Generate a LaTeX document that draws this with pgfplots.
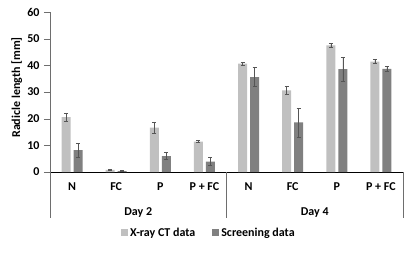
\documentclass[border=0pt]{standalone}
\usepackage{fontspec}
\setmainfont{Carlito}
\usepackage{pgfplots}
\usepackage{pgfplotstable}
\pgfplotsset{compat=1.18}
\definecolor{lightbar}{RGB}{192,192,192}
\definecolor{darkbar}{RGB}{128,128,128}
\definecolor{errc}{RGB}{85,85,85}
\definecolor{axc}{RGB}{110,110,110}
\pgfplotstableread{
x y e
0 20.6 1.4
1 0.8 0.2
2 16.6 2.0
3 11.4 0.4
4 40.6 0.4
5 30.6 1.4
6 47.5 0.6
7 41.4 0.8
}\xray
\pgfplotstableread{
x y e
0 8.2 2.5
1 0.3 0.2
2 6.0 1.4
3 3.9 1.5
4 35.6 3.5
5 18.6 5.4
6 38.6 4.4
7 38.7 1.0
}\screen
\newcommand{\ff}{\fontsize{12}{14.4}\selectfont\bfseries}
\begin{document}
\begin{tikzpicture}[x=1pt,y=1pt]
\path[use as bounding box] (0,0) rectangle (404,260);
\begin{axis}[
  scale only axis, width=353pt, height=160pt,
  at={(50pt,88pt)}, anchor=south west,
  ybar=3pt, bar width=9pt,
  xmin=-0.5, xmax=7.5, ymin=0, ymax=60,
  xtick={0,...,7}, xticklabels={N,FC,P,P + FC,N,FC,P,P + FC},
  x tick style={draw=none},
  ytick={0,10,...,60},
  axis x line*=bottom, axis y line*=left,
  x axis line style={black},
  y axis line style={axc},
  y tick style={axc},
  tick align=outside, major tick length=6pt,
  /pgf/number format/assume math mode=true,
  tick label style={font=\ff},
  yticklabel style={xshift=-1pt},
  xticklabel style={anchor=base, yshift=-12pt},
  ylabel={Radicle length [mm]},
  ylabel style={font=\ff, at={(axis description cs:-0.094,0.528)}, anchor=center},
  clip=false,
  legend style={draw=none, fill=none, legend columns=2, font=\ff,
    at={(axis description cs:0.45,-0.381)}, anchor=center,
    /tikz/every even column/.append style={column sep=15pt}},
]
\addplot[fill=lightbar, draw=none,
  legend image code/.code={\fill[lightbar] (0pt,-3.5pt) rectangle (7pt,3.5pt);},
  error bars/.cd, y dir=both, y explicit,
  error bar style={errc, line width=0.6pt},
  error mark options={rotate=90, mark size=2pt, line width=0.6pt, errc}]
  table[x=x, y=y, y error=e]{\xray};
\addlegendentry{X-ray CT data}
\addplot[fill=darkbar, draw=none,
  legend image code/.code={\fill[darkbar] (0pt,-3.5pt) rectangle (7pt,3.5pt);},
  error bars/.cd, y dir=both, y explicit,
  error bar style={errc, line width=0.6pt},
  error mark options={rotate=90, mark size=2pt, line width=0.6pt, errc}]
  table[x=x, y=y, y error=e]{\screen};
\addlegendentry{Screening data}
\draw[axc, line width=0.5pt] (axis cs:-0.5,0) -- ([yshift=-46pt]axis cs:-0.5,0);
\draw[axc, line width=0.5pt] (axis cs:3.5,0) -- ([yshift=-46pt]axis cs:3.5,0);
\draw[axc, line width=0.5pt] (axis cs:7.5,0) -- ([yshift=-46pt]axis cs:7.5,0);
\node[font=\ff, anchor=base] at ([yshift=-43pt]axis cs:1.5,0) {Day 2};
\node[font=\ff, anchor=base] at ([yshift=-43pt]axis cs:5.5,0) {Day 4};
\end{axis}
\end{tikzpicture}
\end{document}
